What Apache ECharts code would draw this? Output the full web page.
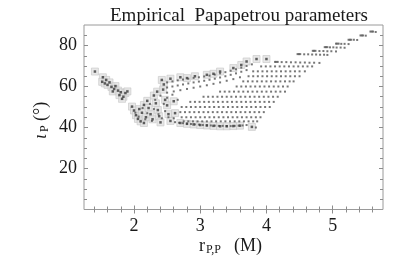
<!DOCTYPE html>
<html><head><meta charset="utf-8">
<script src="https://cdn.jsdelivr.net/npm/echarts@6/dist/echarts.min.js"></script>
<style>html,body{margin:0;padding:0;background:#fff}#c{width:415px;height:258px}</style>
</head><body><div id="c"></div>
<script>
const titleText = 'Empirical  Papapetrou parameters';
const xMajorTicks = [2, 3, 4, 5];
const xMinorTicks = [1.4,1.6,1.8,2.0,2.2,2.4,2.6,2.8,3.0,3.2,3.4,3.6,3.8,4.0,4.2,4.4,4.6,4.8,5.0,5.2,5.4,5.6];
const yMajorTicks = [20, 40, 60, 80];
const yMinorTicks = [5,10,15,20,25,30,35,40,45,50,55,60,65,70,75,80,85];

// points drawn with a grey square halo
const haloPts = [
  [1.41,67.3],[1.53,64.5],[1.58,63.2],[1.52,62.3],[1.56,61.5],[1.63,62.0],[1.6,60.8],[1.66,59.8],[1.72,60.2],
  [1.7,58.8],[1.76,58.0],[1.68,57.6],[1.8,57.2],[1.87,56.8],[1.9,57.6],[1.78,55.8],[1.84,55.0],[1.82,54.0],
  [1.97,50.2],[2.0,48.3],[2.03,46.0],[2.06,44.2],[2.1,43.0],[2.15,42.2],[2.08,49.0],[2.12,47.2],[2.15,51.0],
  [2.18,45.0],[2.2,53.0],[2.22,49.5],[2.25,46.5],[2.28,44.0],[2.3,55.6],[2.33,51.8],[2.36,48.5],[2.38,45.5],
  [2.4,42.5],[2.35,57.5],[2.42,63.2],[2.45,61.0],[2.44,58.5],[2.47,53.5],[2.5,50.8],[2.52,46.5],[2.55,43.2],
  [2.6,52.8],[2.62,47.0],
  [2.7,42.2],[2.8,41.8],[2.9,41.5],[3.0,41.2],[3.1,41.0],[3.2,40.8],[3.3,40.6],[3.4,40.6],[3.5,40.7],[3.6,40.9],[3.78,40.3],
  [2.55,63.8],[2.7,64.5],[2.8,64.1],[2.92,65.0],[3.1,65.7],[3.2,66.2],[3.3,67.3],[3.5,69.0],[3.62,70.5],[3.7,72.2],[3.85,73.4],[4.0,73.4]
];
// short horizontal rows at the top right
const topRowPts = [
  [5.57,86.8],[5.59,86.8],[5.61,86.8],[5.65,86.6],
  [5.42,84.9],[5.44,84.9],[5.46,84.9],[5.5,84.8],
  [5.24,82.8],[5.26,82.8],[5.28,82.8],[5.32,82.8],[5.37,82.7],
  [5.05,80.9],[5.07,80.9],[5.09,80.9],[5.13,80.8],[5.18,80.8],[5.24,80.7],
  [4.88,79.2],[4.9,79.2],[4.92,79.2],[4.96,79.1],[5.01,79.1],[5.06,79.0],[5.12,79.0],[5.18,78.9],
  [4.7,77.4],[4.72,77.4],[4.74,77.4],[4.8,77.3],[4.86,77.3],[4.92,77.2],[4.98,77.2],[5.05,77.1],
  [4.47,75.8],[4.49,75.8],[4.51,75.8],[4.57,75.7],[4.63,75.7],[4.69,75.6],[4.75,75.6],[4.81,75.5],[4.87,75.5],[4.92,75.4],
  [4.13,72.0],[4.15,72.0],[4.17,72.0],[4.23,71.9],[4.3,71.9],[4.37,71.8],[4.44,71.8],[4.51,71.7],[4.58,71.7],[4.65,71.6],[4.72,71.6],[4.8,71.5]
];
// upper arm
const armPts = [
  [2.5,62.0],[2.58,62.5],[2.66,63.0],[2.74,63.4],[2.82,63.8],[2.9,64.2],[2.98,64.5],[3.06,64.9],[3.14,65.3],[3.22,65.8],
  [3.3,66.4],[3.38,67.0],[3.46,67.7],[3.54,68.4],[3.62,69.2],[3.7,70.0],[3.78,70.8],
  [2.5,59.5],[2.58,60.0],[2.66,60.5],[2.74,61.0],[2.82,61.5],[2.9,62.0],[2.98,62.4],[3.06,62.8],[3.14,63.3],[3.22,63.8],
  [3.3,64.4],[3.38,65.0],[3.46,65.7],[3.54,66.4],[3.62,67.2],[3.7,68.0],
  [2.5,57.0],[2.6,57.6],[2.7,58.2],[2.8,58.8],[2.9,59.4],[3.0,60.0],[3.1,60.6],[3.2,61.3],[3.3,62.0],[3.4,62.8],[3.5,63.6],[3.6,64.5]
];
// main fan of dots
const fanPts = [
  [3.92,69.8],[3.99,69.8],[4.06,69.8],[4.13,69.8],[4.20,69.8],[4.27,69.8],[4.34,69.8],[4.41,69.8],[4.48,69.8],[4.55,69.8],[4.62,69.8],[4.69,69.8],
  [3.80,67.4],[3.87,67.4],[3.94,67.4],[4.01,67.4],[4.08,67.4],[4.15,67.4],[4.22,67.4],[4.29,67.4],[4.36,67.4],[4.43,67.4],[4.50,67.4],[4.58,67.4],
  [3.73,65.0],[3.80,65.0],[3.87,65.0],[3.94,65.0],[4.01,65.0],[4.08,65.0],[4.15,65.0],[4.22,65.0],[4.29,65.0],[4.36,65.0],[4.43,65.0],[4.50,65.0],
  [3.65,62.5],[3.72,62.5],[3.79,62.5],[3.86,62.5],[3.93,62.5],[4.00,62.5],[4.07,62.5],[4.14,62.5],[4.21,62.5],[4.28,62.5],[4.35,62.5],[4.41,62.5],
  [3.55,60.0],[3.62,60.0],[3.69,60.0],[3.76,60.0],[3.83,60.0],[3.90,60.0],[3.97,60.0],[4.04,60.0],[4.11,60.0],[4.18,60.0],[4.25,60.0],[4.32,60.0],
  [3.30,57.5],[3.37,57.5],[3.44,57.5],[3.51,57.5],[3.58,57.5],[3.65,57.5],[3.72,57.5],[3.79,57.5],[3.86,57.5],[3.93,57.5],[4.00,57.5],[4.07,57.5],[4.14,57.5],[4.21,57.5],[4.28,57.5],
  [3.05,55.0],[3.12,55.0],[3.19,55.0],[3.26,55.0],[3.33,55.0],[3.40,55.0],[3.47,55.0],[3.54,55.0],[3.61,55.0],[3.68,55.0],[3.75,55.0],[3.82,55.0],[3.89,55.0],[3.96,55.0],[4.03,55.0],[4.10,55.0],[4.17,55.0],
  [2.85,52.5],[2.92,52.5],[2.99,52.5],[3.06,52.5],[3.13,52.5],[3.20,52.5],[3.27,52.5],[3.34,52.5],[3.41,52.5],[3.48,52.5],[3.55,52.5],[3.62,52.5],[3.69,52.5],[3.76,52.5],[3.83,52.5],[3.90,52.5],[3.97,52.5],[4.04,52.5],[4.11,52.5],
  [2.72,50.0],[2.79,50.0],[2.86,50.0],[2.93,50.0],[3.00,50.0],[3.07,50.0],[3.14,50.0],[3.21,50.0],[3.28,50.0],[3.35,50.0],[3.42,50.0],[3.49,50.0],[3.56,50.0],[3.63,50.0],[3.70,50.0],[3.77,50.0],[3.84,50.0],[3.91,50.0],[3.98,50.0],[4.05,50.0],
  [2.70,47.5],[2.77,47.5],[2.84,47.5],[2.91,47.5],[2.98,47.5],[3.05,47.5],[3.12,47.5],[3.19,47.5],[3.26,47.5],[3.33,47.5],[3.40,47.5],[3.47,47.5],[3.54,47.5],[3.61,47.5],[3.68,47.5],[3.75,47.5],[3.82,47.5],[3.89,47.5],[3.96,47.5],
  [2.72,45.0],[2.79,45.0],[2.86,45.0],[2.93,45.0],[3.00,45.0],[3.07,45.0],[3.14,45.0],[3.21,45.0],[3.28,45.0],[3.35,45.0],[3.42,45.0],[3.49,45.0],[3.56,45.0],[3.63,45.0],[3.70,45.0],[3.77,45.0],[3.84,45.0],[3.91,45.0],
  [2.75,43.0],[2.82,43.0],[2.89,43.0],[2.96,43.0],[3.03,43.0],[3.10,43.0],[3.17,43.0],[3.24,43.0],[3.31,43.0],[3.38,43.0],[3.45,43.0],[3.52,43.0],[3.59,43.0],[3.66,43.0],[3.73,43.0],[3.80,43.0],[3.86,43.0]
];
// dense lower edge
const boundaryPts = [
  [2.62,42.6],[2.68,42.3],[2.74,42.1],[2.8,41.9],[2.86,41.7],[2.92,41.5],[2.98,41.4],[3.04,41.2],[3.1,41.1],[3.16,41.0],
  [3.22,40.9],[3.28,40.8],[3.34,40.8],[3.4,40.7],[3.46,40.7],[3.52,40.8],[3.58,40.9],[3.64,41.0],[3.7,41.2],[3.84,40.0]
];
// loose dots of the lower-left cluster
const clusterPts = [
  [2.02,47.2],[2.07,45.3],[2.13,49.5],[2.17,44.0],[2.2,47.0],[2.24,51.5],[2.27,43.2],[2.3,49.0],[2.32,53.5],[2.37,46.5],
  [2.4,55.5],[2.42,44.5],[2.45,51.5],[2.47,48.0],[2.5,54.5],[2.52,45.0],[2.58,56.0],[2.6,44.5],[2.66,53.5]
];

const X_MIN = 1.245, X_MAX = 5.76, Y_MIN = 0, Y_MAX = 90;
const serif = 'Liberation Serif';
const tickColor = '#8c8c8c';

function xAx(pos, ticks, len, labels) {
  return {
    type: 'value', min: X_MIN, max: X_MAX, position: pos, gridIndex: 0,
    axisLine: { show: false }, splitLine: { show: false },
    axisTick: { show: true, inside: true, length: len, customValues: ticks, lineStyle: { color: tickColor, width: 1 } },
    axisLabel: labels ? { show: true, customValues: labels, margin: 8, color: '#1a1a1a', fontFamily: serif, fontSize: 18 } : { show: false }
  };
}
function yAx(pos, ticks, len, labels) {
  return {
    type: 'value', min: Y_MIN, max: Y_MAX, position: pos, gridIndex: 0,
    axisLine: { show: false }, splitLine: { show: false },
    axisTick: { show: true, inside: true, length: len, customValues: ticks, lineStyle: { color: tickColor, width: 1 } },
    axisLabel: labels ? { show: true, customValues: labels, margin: 7, color: '#1a1a1a', fontFamily: serif, fontSize: 18 } : { show: false }
  };
}

const chart = echarts.init(document.getElementById('c'), null, { renderer: 'canvas' });
chart.setOption({
  animation: false,
  backgroundColor: '#fff',
  title: {
    text: titleText, left: 234, top: 2, textAlign: 'center',
    textStyle: { fontFamily: serif, fontSize: 19, fontWeight: 'normal', color: '#1a1a1a' }
  },
  grid: { left: 84, right: 32, top: 25, bottom: 48.5, show: true, borderColor: '#9a9a9a', borderWidth: 1, backgroundColor: '#fff' },
  xAxis: [
    xAx('bottom', xMajorTicks, 4, xMajorTicks),
    xAx('bottom', xMinorTicks, 3, null),
    xAx('top', xMajorTicks, 4, null),
    xAx('top', xMinorTicks, 3, null)
  ],
  yAxis: [
    yAx('left', yMajorTicks, 4, yMajorTicks),
    yAx('left', yMinorTicks, 3, null),
    yAx('right', yMajorTicks, 4, null),
    yAx('right', yMinorTicks, 3, null)
  ],
  series: [
    { type: 'scatter', name: 'halo', silent: true, data: haloPts, symbol: 'rect', symbolSize: 7,
      itemStyle: { color: '#e2e2e2', borderColor: '#c6c6c6', borderWidth: 0.8 }, z: 1 },
    { type: 'scatter', name: 'haloDots', silent: true, data: haloPts, symbol: 'rect', symbolSize: 2.5,
      itemStyle: { color: '#3a3a3a' }, z: 3 },
    { type: 'scatter', name: 'dots', silent: true,
      data: topRowPts.concat(armPts, fanPts, boundaryPts, clusterPts), symbol: 'rect', symbolSize: 2,
      itemStyle: { color: '#555' }, z: 2 }
  ],
  graphic: [
    { type: 'group', left: 199, top: 237, children: [
      { type: 'text', x: 0, y: 0, style: { text: 'r', fontFamily: serif, fontSize: 18, fill: '#1a1a1a' } },
      { type: 'text', x: 7, y: 7, style: { text: 'P,P', fontFamily: serif, fontSize: 12, fill: '#1a1a1a' } },
      { type: 'text', x: 35, y: 0, style: { text: '(M)', fontFamily: serif, fontSize: 18, fill: '#1a1a1a' } }
    ]},
    { type: 'group', x: 32, y: 139, rotation: Math.PI / 2, children: [
      { type: 'text', x: 0, y: 0, style: { text: 'ι', fontFamily: serif, fontStyle: 'italic', fontSize: 18, fill: '#1a1a1a' } },
      { type: 'text', x: 7, y: 7, style: { text: 'P', fontFamily: serif, fontSize: 12, fill: '#1a1a1a' } },
      { type: 'text', x: 18, y: 0, style: { text: '(°)', fontFamily: serif, fontSize: 18, fill: '#1a1a1a' } }
    ]}
  ]
});
</script></body></html>
